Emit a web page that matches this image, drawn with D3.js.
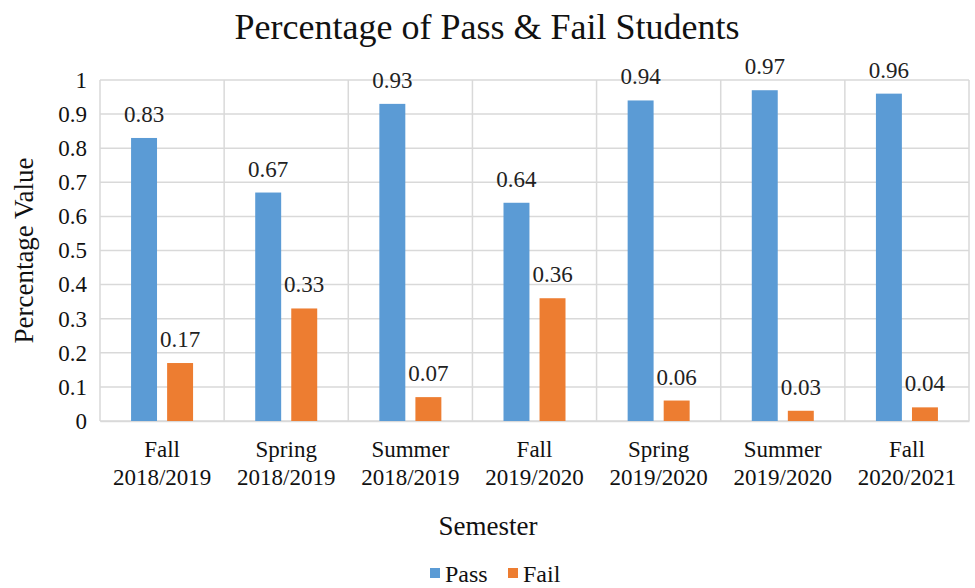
<!DOCTYPE html>
<html>
<head>
<meta charset="utf-8">
<script src="https://cdn.jsdelivr.net/npm/d3@7"></script>
<style>
  body { margin: 0; background: #fff; }
</style>
</head>
<body>
<div id="chart"></div>
<script>
// Chart data
const semesters = ["Fall 2018/2019", "Spring 2018/2019", "Summer 2018/2019", "Fall 2019/2020",
                   "Spring 2019/2020", "Summer 2019/2020", "Fall 2020/2021"];
const passValues = [0.83, 0.67, 0.93, 0.64, 0.94, 0.97, 0.96];
const failValues = [0.17, 0.33, 0.07, 0.36, 0.06, 0.03, 0.04];
const seriesNames = ["Pass", "Fail"];
const yTicks = [0, 0.1, 0.2, 0.3, 0.4, 0.5, 0.6, 0.7, 0.8, 0.9, 1];

const colors = { Pass: "#5B9BD5", Fail: "#ED7D31" };
const serif = "Liberation Serif";

const width = 975, height = 588;
const margin = { top: 80, right: 6, bottom: 167, left: 100 };
const innerW = width - margin.left - margin.right;
const innerH = height - margin.top - margin.bottom;

const svg = d3.select("#chart")
    .append("svg")
    .attr("width", width)
    .attr("height", height)
    .attr("font-family", serif);

// Title
svg.append("text")
    .attr("x", 487)
    .attr("y", 39)
    .attr("text-anchor", "middle")
    .attr("font-family", serif)
    .attr("font-size", 36)
    .attr("fill", "#111")
    .text("Percentage of Pass & Fail Students");

const g = svg.append("g")
    .attr("transform", `translate(${margin.left},${margin.top})`);

// Scales
const x0 = d3.scaleBand()
    .domain(semesters)
    .range([0, innerW]);

const x1 = d3.scaleBand()
    .domain(seriesNames)
    .range([x0.bandwidth() / 2 - 31, x0.bandwidth() / 2 + 31])
    .paddingInner(0.28);

const y = d3.scaleLinear()
    .domain([0, 1])
    .range([innerH, 0]);

// Horizontal grid
g.append("g")
    .selectAll("line")
    .data(yTicks)
    .enter()
    .append("line")
    .attr("x1", 0)
    .attr("x2", innerW)
    .attr("y1", d => y(d))
    .attr("y2", d => y(d))
    .attr("stroke", "#d9d9d9")
    .attr("stroke-width", 1.5);

// Vertical separators between categories
const seps = semesters.map(s => x0(s)).concat([innerW]);
g.append("g")
    .selectAll("line")
    .data(seps)
    .enter()
    .append("line")
    .attr("x1", d => d)
    .attr("x2", d => d)
    .attr("y1", 0)
    .attr("y2", innerH)
    .attr("stroke", "#d9d9d9")
    .attr("stroke-width", 1.5);

// Y axis
const yAxis = g.append("g")
    .call(d3.axisLeft(y).tickValues(yTicks).tickFormat(d3.format("~g")).tickSize(0).tickPadding(13))
    .attr("font-family", serif)
    .attr("font-size", 23);
yAxis.select(".domain").remove();
yAxis.selectAll("text")
    .attr("fill", "#111");

// X axis labels (two lines)
const xAxis = g.append("g")
    .attr("transform", `translate(0,${innerH})`)
    .call(d3.axisBottom(x0).tickSize(0).tickFormat(""))
    .attr("font-family", serif)
    .attr("font-size", 23);
xAxis.select(".domain").attr("stroke", "#d9d9d9").attr("stroke-width", 1.5);
xAxis.selectAll(".tick")
    .append("text")
    .attr("text-anchor", "middle")
    .attr("fill", "#111")
    .each(function(d) {
        const parts = d.split(" ");
        const t = d3.select(this);
        t.append("tspan").attr("x", 0).attr("y", 36).text(parts[0]);
        t.append("tspan").attr("x", 0).attr("y", 64).text(parts[1]);
    });

// Bars
const rows = semesters.map((s, i) => ({ semester: s, Pass: passValues[i], Fail: failValues[i] }));

const groups = g.selectAll(".group")
    .data(rows)
    .enter()
    .append("g")
    .attr("class", "group")
    .attr("transform", d => `translate(${x0(d.semester)},0)`);

groups.selectAll("rect")
    .data(d => seriesNames.map(k => ({ key: k, value: d[k] })))
    .enter()
    .append("rect")
    .attr("x", d => x1(d.key))
    .attr("y", d => y(d.value))
    .attr("width", x1.bandwidth())
    .attr("height", d => innerH - y(d.value))
    .attr("fill", d => colors[d.key]);

// Data labels
groups.selectAll(".label")
    .data(d => seriesNames.map(k => ({ key: k, value: d[k] })))
    .enter()
    .append("text")
    .attr("class", "label")
    .attr("x", d => x1(d.key) + x1.bandwidth() / 2)
    .attr("y", d => y(d.value) - 16)
    .attr("text-anchor", "middle")
    .attr("font-family", serif)
    .attr("font-size", 23)
    .attr("fill", "#222")
    .text(d => d3.format(".2f")(d.value));

// Y axis title
svg.append("text")
    .attr("transform", `translate(33,${margin.top + innerH / 2}) rotate(-90)`)
    .attr("text-anchor", "middle")
    .attr("font-family", serif)
    .attr("font-size", 27)
    .attr("fill", "#111")
    .text("Percentage Value");

// X axis title
svg.append("text")
    .attr("x", 488)
    .attr("y", 535)
    .attr("text-anchor", "middle")
    .attr("font-family", serif)
    .attr("font-size", 27)
    .attr("fill", "#111")
    .text("Semester");

// Legend
const legend = svg.append("g").attr("transform", "translate(430,582)");
const legendItems = legend.selectAll(".item")
    .data(seriesNames)
    .enter()
    .append("g")
    .attr("class", "item")
    .attr("transform", (d, i) => `translate(${i * 78},0)`);
legendItems.append("rect")
    .attr("x", 0)
    .attr("y", -14)
    .attr("width", 10)
    .attr("height", 10)
    .attr("fill", d => colors[d]);
legendItems.append("text")
    .attr("x", 15)
    .attr("y", 0)
    .attr("font-family", serif)
    .attr("font-size", 24)
    .attr("fill", "#111")
    .text(d => d);
</script>
</body>
</html>
